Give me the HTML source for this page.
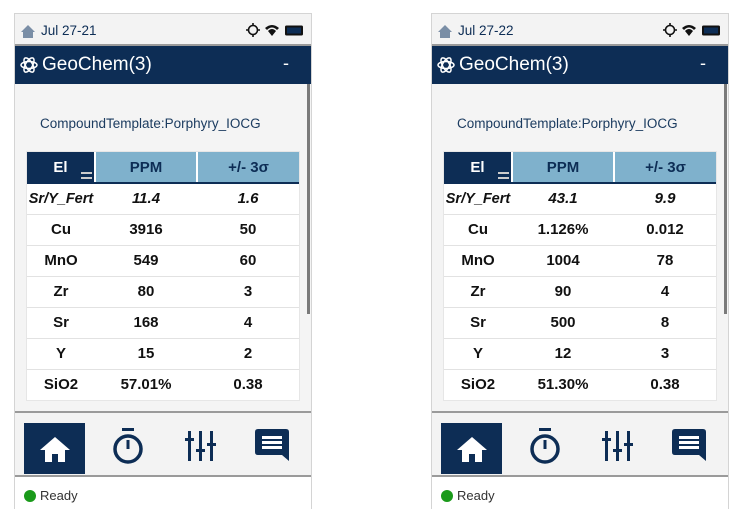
<!DOCTYPE html>
<html><head><meta charset="utf-8"><style>
*{margin:0;padding:0;box-sizing:border-box}
body{width:750px;height:516px;background:#fff;position:relative;overflow:hidden;font-family:"Liberation Sans","DejaVu Sans",sans-serif}
.dev{position:absolute;top:13px;width:298px;height:496px;border:1px solid #d4d4d4;background:#f3f3f3}
.status{position:absolute;left:0;top:0;width:100%;height:32px;background:#f3f3f3;border-bottom:2px solid #9a9a9a}
.date{position:absolute;left:26px;top:9px;font-size:13.5px;color:#0d2d55}
.hdr{position:absolute;left:0;top:32px;width:100%;height:38px;background:#0d2d55;color:#fff}
.hdr .t{position:absolute;left:27px;top:8px;font-size:19px}
.hdr .m{position:absolute;right:22px;top:7px;font-size:18px}
.content{position:absolute;left:0;top:70px;width:100%;height:327px;background:#f4f4f4}
.scroll{position:absolute;right:1px;top:70px;width:3px;height:230px;background:#7a7a7a}
.tmpl{position:absolute;left:25px;top:32px;font-size:13.5px;color:#1c3c60}
table{position:absolute;left:12px;top:68px;width:272px;border-collapse:collapse;background:#fff;table-layout:fixed;box-shadow:0 0 0 1px #e6e6e6}
th{height:31px;font-size:15px;font-weight:bold;color:#0d2d55;background:#7fb1cc;border-bottom:2px solid #0d2d55;border-left:2px solid #fff}
th.el{background:#0d2d55;color:#fff;width:68px;border-left:none;position:relative}
th.p{width:102px}
td{height:31px;text-align:center;font-size:15px;font-weight:bold;color:#111;border-top:1.5px solid #e2e2e2}
tr.it td{font-style:italic}
tr.it td.e{font-size:14.5px}
.bar{position:absolute;left:0;top:397px;width:100%;height:66px;border-top:2px solid #9a9a9a;border-bottom:2px solid #9a9a9a;background:#f3f3f3}
.home{position:absolute;left:9px;top:10px;width:61px;height:51px;background:#0d2d55}
.ready{position:absolute;left:0;top:463px;width:100%;height:32px;background:#fff}
.dot{position:absolute;left:9px;top:13px;width:12px;height:12px;border-radius:50%;background:#1a9a1a}
.rt{position:absolute;left:25px;top:11px;font-size:13px;color:#333}
</style></head><body>
<div id="root"></div>
<script>
const dates=["Jul 27-21","Jul 27-22"];
const lefts=[14,431];
const elements=["Sr/Y_Fert","Cu","MnO","Zr","Sr","Y","SiO2"];
const ppm=[["11.4","3916","549","80","168","15","57.01%"],["43.1","1.126%","1004","90","500","12","51.30%"]];
const sig=[["1.6","50","60","3","4","2","0.38"],["9.9","0.012","78","4","8","3","0.38"]];
const root=document.getElementById('root');
dates.forEach((d,i)=>{
  const dev=document.createElement('div');
  dev.className='dev';dev.style.left=lefts[i]+'px';
  
  
  let rows='';
  elements.forEach((e,j)=>{
    rows+=`<tr class="${j==0?'it':''}"><td class="e">${e}</td><td>${ppm[i][j]}</td><td>${sig[i][j]}</td></tr>`;
  });
  dev.innerHTML=`
  <div class="status">
    <svg style="position:absolute;left:5px;top:10px" width="16" height="14"><path d="M8 1 L15 8 H13 V14 H3 V8 H1 Z" fill="#7a8ea6"/></svg>
    <span class="date">${d}</span>
    <svg style="position:absolute;left:230px;top:8px" width="60" height="16">
      <circle cx="8" cy="8" r="4.5" fill="none" stroke="#111" stroke-width="1.6"/><path d="M8 1v3M8 12v3M1 8h3M12 8h3" stroke="#111" stroke-width="1.6"/>
      <path d="M20 6 Q27 0 34 6 L32 8 Q27 3 22 8Z M23 9 Q27 5 31 9 L27 14Z" fill="#111"/>
      <rect x="40" y="3.5" width="18" height="10" rx="1.5" fill="#111"/><rect x="42" y="5.5" width="14" height="6" fill="#0d2d55"/>
    </svg>
  </div>
  <div class="hdr">
    <svg style="position:absolute;left:4px;top:9px" width="20" height="20"><g fill="none" stroke="#fff" stroke-width="1.5"><ellipse cx="10" cy="10" rx="8" ry="3.5"/><ellipse cx="10" cy="10" rx="8" ry="3.5" transform="rotate(60 10 10)"/><ellipse cx="10" cy="10" rx="8" ry="3.5" transform="rotate(-60 10 10)"/></g></svg>
    <span class="t">GeoChem(3)</span>
    <span class="m">-</span>
  </div>
  <div class="content">
    <div class="tmpl">CompoundTemplate:Porphyry_IOCG</div>
    <table>
      <tr><th class="el">El<span style="position:absolute;right:2px;bottom:3px;width:11px;height:7px;border-top:2px solid #ccc;border-bottom:2px solid #ccc"></span></th><th class="p">PPM</th><th>+/- 3σ</th></tr>
      ${rows}
    </table>
  </div>
  <div class="scroll"></div>
  <div class="bar">
    <div class="home"><svg style="position:absolute;left:15px;top:12px" width="32" height="28"><path d="M16 2 L31 15 H26 V27 H19 V19 H13 V27 H6 V15 H1 Z" fill="#fff"/></svg></div>
    <svg style="position:absolute;left:96px;top:14px" width="34" height="40"><rect x="11" y="1" width="12" height="3" fill="#0d2d55"/><circle cx="17" cy="22" r="13" fill="none" stroke="#0d2d55" stroke-width="3.5"/><rect x="15.5" y="13" width="3" height="9" fill="#0d2d55"/></svg>
    <svg style="position:absolute;left:170px;top:16px" width="32" height="34"><g fill="#0d2d55"><rect x="3" y="2" width="3" height="30"/><rect x="0" y="9" width="9" height="3"/><rect x="14" y="2" width="3" height="30"/><rect x="11" y="20" width="9" height="3"/><rect x="25" y="2" width="3" height="30"/><rect x="22" y="14" width="9" height="3"/></g></svg>
    <svg style="position:absolute;left:240px;top:15px" width="36" height="36"><path d="M3 1 H31 Q34 1 34 4 V33 L27 27 H3 Q0 27 0 24 V4 Q0 1 3 1Z" fill="#0d2d55"/><g fill="#fff"><rect x="7" y="8" width="20" height="3"/><rect x="7" y="13" width="20" height="3"/><rect x="7" y="18" width="20" height="3"/></g></svg>
  </div>
  <div class="ready"><div class="dot"></div><span class="rt">Ready</span></div>`;
  root.appendChild(dev);
});
</script>
</body></html>
